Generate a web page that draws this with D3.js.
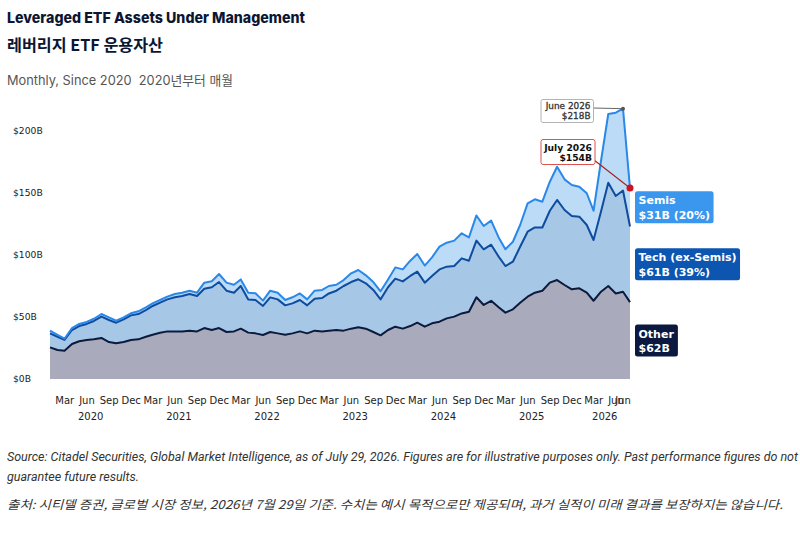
<!DOCTYPE html>
<html><head><meta charset="utf-8">
<script src="https://cdn.jsdelivr.net/npm/d3@7"></script>
<style>
html,body{margin:0;padding:0;background:#fff;}
svg{display:block;}
</style>
</head><body>
<svg id="c" width="800" height="534"></svg>
<script>
// ---- DATA (USD billions, month-end, Dec 2019 .. Jun 2026, then Jul 29 2026) ----
const seriesKeys = ["other", "tech", "semis"];
const other = [25.5,23.4,22.8,28.2,30.4,31.5,32.0,33.1,29.8,28.8,29.8,31.5,32.0,34.1,35.7,37.3,38.4,38.4,38.4,39.0,
  38.4,41.1,39.5,41.1,37.9,38.4,40.6,37.4,36.8,35.5,37.9,36.8,35.7,36.8,38.4,36.8,39.0,38.4,39.0,39.5,
  39.0,40.6,41.7,40.6,37.9,35.2,39.5,42.2,40.6,42.7,45.4,42.2,44.9,46.2,48.9,50.3,52.9,54.3,65.9,59.7,
  63.1,57.8,53.5,56.2,61.5,66.4,69.6,71.2,77.7,79.8,75.8,72.3,73.1,69.6,63.1,70.4,75.0,69.0,70.4,62.0];
const tech = [11.3,10.7,8.7,11.3,12.3,12.9,14.8,17.2,17.8,16.6,18.3,19.8,20.4,21.5,23.2,24.3,25.8,27.5,28.5,29.5,
  28.5,31.7,34.5,37.1,33.3,31.2,34.4,26.8,26.9,23.4,27.9,27.4,23.7,24.2,25.3,22.6,25.7,26.9,30.0,31.7,
  36.0,37.6,38.7,36.6,33.9,29.0,34.5,38.7,38.1,40.4,41.2,35.5,38.2,42.2,41.7,40.8,44.4,41.1,45.7,44.9,
  45.2,40.9,37.6,38.4,45.2,52.4,52.6,51.0,58.0,64.6,60.5,59.2,57.8,54.6,49.0,64.6,83.3,78.6,81.6,61.0];
const semis = [2.2,1.4,1.0,1.6,1.7,1.6,1.8,2.1,2.1,1.6,1.6,1.7,2.2,2.2,2.1,2.1,2.2,2.6,2.7,2.7,
  2.7,4.9,4.8,6.5,6.5,6.4,5.3,5.4,5.4,4.3,5.4,5.4,4.3,4.9,5.3,4.8,6.5,6.5,6.0,4.8,
  4.8,7.0,7.5,6.4,6.4,6.5,6.3,9.1,9.7,12.3,14.2,13.8,15.0,18.3,19.3,20.5,20.2,18.8,20.3,18.8,
  19.4,15.5,13.5,16.1,17.5,22.8,22.7,20.8,23.4,26.8,24.7,25.0,24.2,25.6,23.6,41.0,55.4,67.2,66.0,31.0];

const yTicks = [0, 50, 100, 150, 200];
const tickMonthNames = ["Mar", "Jun", "Sep", "Dec"];
const years = [2020, 2021, 2022, 2023, 2024, 2025, 2026];

const rightLabels = [
  {key: "semis", lines: ["Semis", "$31B (20%)"], fill: "#3b97ee"},
  {key: "tech", lines: ["Tech (ex-Semis)", "$61B (39%)"], fill: "#0c55b1"},
  {key: "other", lines: ["Other", "$62B"], fill: "#0b1840"}
];
const callouts = [
  {idx: 78, lines: ["June 2026", "$218B"]},
  {idx: 79, lines: ["July 2026", "$154B"]}
];

// ---- dates: month ends from Dec 2019, plus Jul 29 2026 ----
const dates = [];
for (let k = 0; k < other.length - 1; k++) dates.push(d3.timeDay.offset(new Date(2020, k, 1), -1));
dates.push(new Date(2026, 6, 29));

const rows = dates.map((d, i) => ({date: d, other: other[i], tech: tech[i], semis: semis[i]}));
const stacked = d3.stack().keys(seriesKeys)(rows);

const svg = d3.select("#c");
svg.append("rect").attr("width", 800).attr("height", 534).attr("fill", "#fff");

const x = d3.scaleTime().domain([dates[0], dates[dates.length - 1]]).range([50, 630]);
const y = d3.scaleLinear().domain([0, 200]).range([379, 131]);

// ---- titles ----
function fitText(sel, w) { sel.attr("textLength", w).attr("lengthAdjust", "spacingAndGlyphs"); }
svg.append("text").attr("x", 7).attr("y", 22.5)
  .attr("font-family", "Inter, 'Noto Sans'").attr("font-weight", 800).attr("font-size", 15)
  .attr("fill", "#0b1633").text("Leveraged ETF Assets Under Management").call(fitText, 298);
svg.append("text").attr("x", 7).attr("y", 51)
  .attr("font-family", "'Noto Sans CJK KR', Inter").attr("font-weight", 700).attr("font-size", 15.5)
  .attr("fill", "#0b1633").text("레버리지 ETF 운용자산").call(fitText, 156);
svg.append("text").attr("x", 7).attr("y", 84.5).style("white-space", "pre")
  .attr("font-family", "Inter, 'Noto Sans CJK KR'").attr("font-size", 13)
  .attr("fill", "#555").text("Monthly, Since 2020\u00a0\u00a02020년부터 매월").call(fitText, 226);

// ---- axes text ----
const axisFont = "'DejaVu Sans', sans-serif";
svg.append("g").selectAll("text").data(yTicks).join("text")
  .attr("x", 13).attr("y", d => y(d) + 3.3)
  .attr("font-family", axisFont).attr("font-size", 9.2).attr("fill", "#222")
  .text(d => "$" + d + "B");

const monthIdx = {Mar: 2, Jun: 5, Sep: 8, Dec: 11};
const tickDates = [];
years.forEach(yr => tickMonthNames.forEach(m => {
  const d = new Date(yr, monthIdx[m], 1);
  if (d <= dates[dates.length - 1]) tickDates.push({d, label: m});
}));
tickDates.push({d: dates[dates.length - 2], label: "Jun"});
svg.append("g").selectAll("text").data(tickDates).join("text")
  .attr("x", t => x(t.d)).attr("y", 404).attr("text-anchor", "middle")
  .attr("font-family", axisFont).attr("font-size", 10).attr("fill", "#222")
  .text(t => t.label);

svg.append("g").selectAll("text").data(years).join("text")
  .attr("x", yr => {
    const a = new Date(yr, 0, 1);
    const b = d3.min([new Date(yr, 11, 1), dates[dates.length - 1]]);
    return (x(a) + x(b)) / 2;
  })
  .attr("y", 419.5).attr("text-anchor", "middle")
  .attr("font-family", axisFont).attr("font-size", 10).attr("fill", "#222")
  .text(yr => yr);

// ---- areas & lines ----
const areaFill = {other: "#a9abbc", tech: "#a7c7e7", semis: "#bcdbf7"};
const lineCol = {other: "#0b1a3d", tech: "#0e4c9d", semis: "#2a88e8"};
const area = d3.area().x(d => x(d.data.date)).y0(d => y(d[0])).y1(d => y(d[1]));
const line = d3.line().x(d => x(d.data.date)).y(d => y(d[1]));
svg.append("g").selectAll("path").data(stacked).join("path")
  .attr("d", area).attr("fill", s => areaFill[s.key]);
svg.append("g").selectAll("path").data(stacked).join("path")
  .attr("d", line).attr("fill", "none").attr("stroke", s => lineCol[s.key])
  .attr("stroke-width", 2).attr("stroke-linejoin", "round");

// ---- right-side labels ----
const lastByKey = {};
stacked.forEach(s => lastByKey[s.key] = s[s.length - 1]);
const lblFont = "'DejaVu Sans', sans-serif";
rightLabels.forEach(l => {
  const seg = lastByKey[l.key];
  const cy = y((seg[0] + seg[1]) / 2);
  const g = svg.append("g");
  const t = g.append("text").attr("font-family", lblFont).attr("font-weight", 700)
    .attr("font-size", 11).attr("fill", "#fff");
  l.lines.forEach((s, i) => t.append("tspan").attr("x", 638.5).attr("y", cy - 3 + i * 14.3).text(s));
  const bb = t.node().getBBox();
  g.insert("rect", "text").attr("x", 635).attr("y", cy - 16).attr("width", bb.width + 7)
    .attr("height", 32).attr("rx", 2.5).attr("fill", l.fill);
});

// ---- callouts ----
const june = callouts[0], july = callouts[1];
const jTot = stacked[2][june.idx][1], lTot = stacked[2][july.idx][1];
const jx = x(dates[june.idx]), jy = y(jTot);
const lx = x(dates[july.idx]), ly = y(lTot);

svg.append("line").attr("x1", 593).attr("y1", 108).attr("x2", jx).attr("y2", jy)
  .attr("stroke", "#555").attr("stroke-width", 0.9);
svg.append("rect").attr("x", 541).attr("y", 99.5).attr("width", 52.5).attr("height", 23)
  .attr("rx", 2).attr("fill", "#fff").attr("stroke", "#aaa").attr("stroke-width", 0.9);
const jt = svg.append("text").attr("font-family", lblFont)
  .attr("font-size", 8.9).attr("fill", "#333").attr("stroke", "#333").attr("stroke-width", 0.3)
  .attr("text-anchor", "end");
june.lines.forEach((s, i) => jt.append("tspan").attr("x", 590.5).attr("y", 109.3 + i * 9.6).text(s));
svg.append("circle").attr("cx", jx).attr("cy", jy).attr("r", 2).attr("fill", "#555");

svg.append("line").attr("x1", 594).attr("y1", 160).attr("x2", lx).attr("y2", ly)
  .attr("stroke", "#a81f1f").attr("stroke-width", 1.1);
svg.append("rect").attr("x", 541).attr("y", 139.5).attr("width", 54).attr("height", 25)
  .attr("rx", 2).attr("fill", "#fff").attr("stroke", "#d9534f").attr("stroke-width", 1);
const lt = svg.append("text").attr("font-family", lblFont).attr("font-weight", 700)
  .attr("font-size", 9.2).attr("fill", "#111").attr("text-anchor", "end");
july.lines.forEach((s, i) => lt.append("tspan").attr("x", 592).attr("y", 150.5 + i * 10.5).text(s));
svg.append("circle").attr("cx", lx).attr("cy", ly).attr("r", 3.5).attr("fill", "#d0111b");

// ---- footer ----
const footFont = "'Liberation Sans Narrow', 'Roboto', 'Noto Sans CJK KR', sans-serif";
svg.append("text").attr("x", 7).attr("y", 461).attr("font-family", footFont).attr("font-style", "italic")
  .attr("font-size", 12.5).attr("fill", "#333")
  .text("Source: Citadel Securities, Global Market Intelligence, as of July 29, 2026. Figures are for illustrative purposes only. Past performance figures do not")
  .call(fitText, 791);
svg.append("text").attr("x", 7).attr("y", 481).attr("font-family", footFont).attr("font-style", "italic")
  .attr("font-size", 12.5).attr("fill", "#333").text("guarantee future results.").call(fitText, 132);
svg.append("text").attr("x", 7).attr("y", 509).attr("font-family", "'Noto Sans CJK KR', sans-serif")
  .attr("font-style", "italic").attr("font-size", 12).attr("fill", "#333")
  .text("출처: 시티델 증권, 글로벌 시장 정보, 2026년 7월 29일 기준. 수치는 예시 목적으로만 제공되며, 과거 실적이 미래 결과를 보장하지는 않습니다.")
  .call(fitText, 776);
</script>
</body></html>
